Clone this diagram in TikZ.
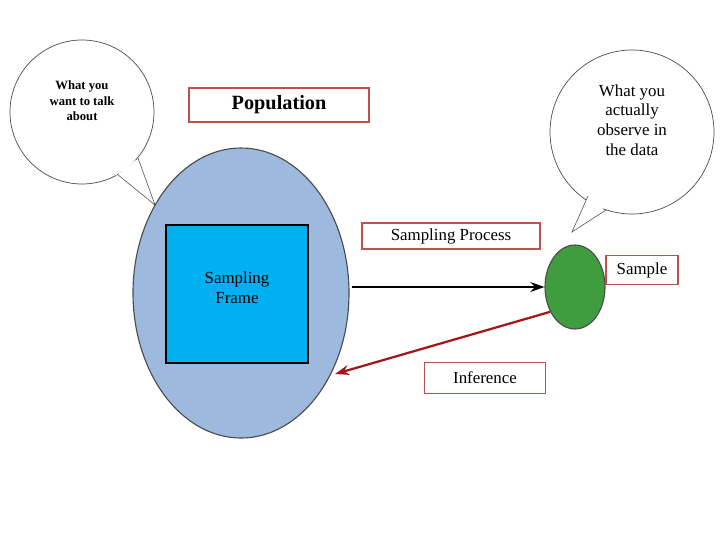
\documentclass[tikz,border=0pt]{standalone}
\usepackage{fontspec}
\setmainfont{Liberation Serif}
\usetikzlibrary{shapes.geometric,arrows.meta}
\definecolor{boxred}{HTML}{C0504D}
\definecolor{popblue}{HTML}{9DB9DD}
\definecolor{framecyan}{HTML}{00B0F0}
\definecolor{samplegreen}{HTML}{3F9C3F}
\definecolor{infred}{HTML}{A01818}
\tikzset{
  labelbox/.style={draw=boxred, line width=1.2pt, fill=white, inner sep=0pt},
  bubble/.style={draw=black!70, fill=white, line width=0.5pt},
  tail/.style={draw=black!70, fill=white, line width=0.5pt},
}
\begin{document}
\begin{tikzpicture}[x=0.025cm,y=-0.025cm]
        \useasboundingbox (0,0) rectangle (720,540);
        % speech bubbles
        \draw[bubble] (82,112) circle (72);
        \fill[white] (116,176) -- (155,205) -- (136,160) -- cycle;
        \draw[black!70] (117,174) -- (155,205) -- (138,158);
        \node[align=center, font=\small\bfseries] (talk) at (82,101) {What you\\want to talk\\about};
        \draw[bubble] (632,132) circle (82);
        \fill[white] (589,194) -- (572,232) -- (605,207) -- cycle;
        \draw[black!70] (588,196) -- (572,232) -- (606,210);
        \node[align=center, font=\large] (observe) at (632,120) {What you\\actually\\observe in\\the data};
        % population and frame
        \node[ellipse, draw=black!70, fill=popblue, line width=0.8pt, minimum width=216*0.025cm, minimum height=290*0.025cm] (pop) at (241,293) {};
        \node[draw=black, fill=framecyan, line width=0.8pt, minimum width=142*0.025cm, minimum height=138*0.025cm] (frame) at (237,294) {};
        \node[align=center, font=\large] (framelbl) at (237,288) {Sampling\\Frame};
        \node[labelbox, minimum width=180*0.025cm, minimum height=34*0.025cm, font=\Large\bfseries] (poplbl) at (279,105) {Population};
        % sample
        \node[ellipse, draw=black!70, fill=samplegreen, line width=0.8pt, minimum width=60*0.025cm, minimum height=84*0.025cm] (sample) at (575,287) {};
        \node[labelbox, minimum width=178*0.025cm, minimum height=26*0.025cm, font=\large] (process) at (451,236) {Sampling Process};
        \node[labelbox, minimum width=72*0.025cm, minimum height=29*0.025cm, font=\large] (samplelbl) at (642,270) {Sample};
        \node[labelbox, minimum width=121*0.025cm, minimum height=31*0.025cm, font=\large] (inference) at (485,378) {Inference};
        % arrows
        \coordinate (procstart) at (352,287);
        \coordinate (infend) at (335,374);
        \draw[-{Stealth[length=10pt,width=7pt]}, line width=1.3pt] (procstart) -- (sample.west);
        \draw[-{Stealth[length=10pt,width=7pt]}, infred, line width=1.6pt] (sample.-135) -- (infend);
\end{tikzpicture}
\end{document}
